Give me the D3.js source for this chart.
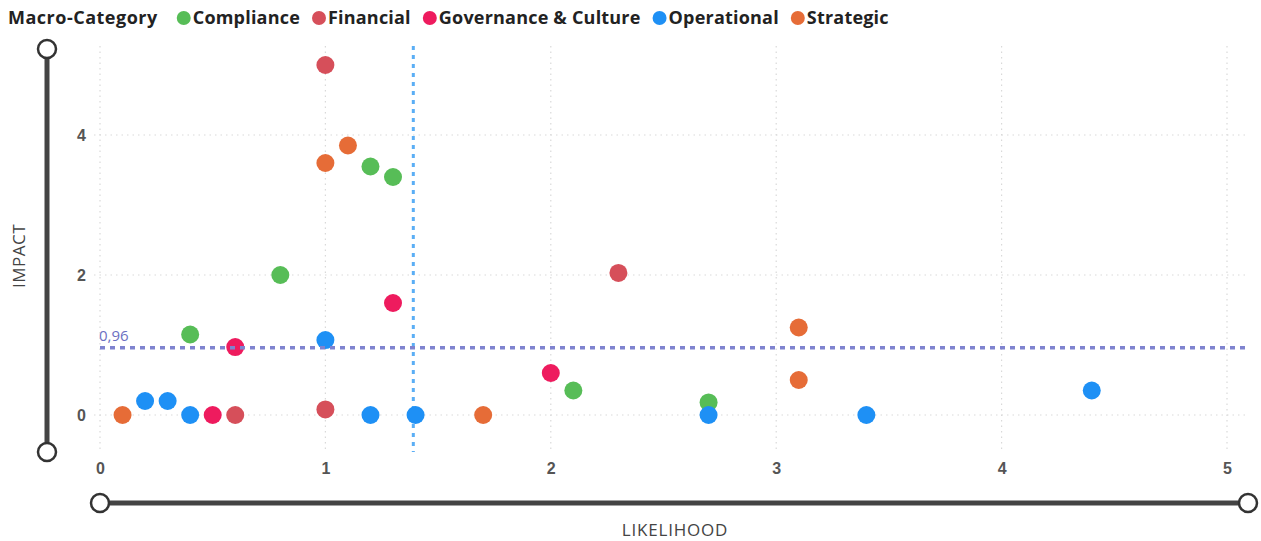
<!DOCTYPE html>
<html><head><meta charset="utf-8">
<script src="https://cdn.jsdelivr.net/npm/d3@7"></script>
<style>
html,body{margin:0;padding:0;background:#fff;}
svg{display:block;font-family:"Open Sans","DejaVu Sans",sans-serif;}
</style></head>
<body><svg id="chart" width="1261" height="541"></svg>
<script>
const categories = ["Compliance","Financial","Governance & Culture","Operational","Strategic"];
const colors = ["#57BD57","#D64F5A","#EE1B5E","#1E90F5","#E66C37"];
const complianceLikelihood = [0.4,0.8,1.2,1.3,2.1,2.7];
const complianceImpact     = [1.15,2.0,3.55,3.4,0.35,0.18];
const financialLikelihood  = [1.0,0.6,1.0,2.3];
const financialImpact      = [5.0,0,0.08,2.03];
const governanceLikelihood = [0.6,0.5,1.3,2.0];
const governanceImpact     = [0.97,0,1.6,0.6];
const operationalLikelihood= [0.2,0.3,0.4,1.0,1.2,1.4,2.7,3.4,4.4];
const operationalImpact    = [0.2,0.2,0,1.07,0,0,0,0,0.35];
const strategicLikelihood  = [0.1,1.0,1.1,1.7,3.1,3.1];
const strategicImpact      = [0,3.6,3.85,0,1.25,0.5];
const xTicks = [0,1,2,3,4,5];
const yTicks = [0,2,4];
const impactRef = 0.96;
const impactRefLabel = "0,96";
const likelihoodRef = 1.39;

const seriesX = [complianceLikelihood,financialLikelihood,governanceLikelihood,operationalLikelihood,strategicLikelihood];
const seriesY = [complianceImpact,financialImpact,governanceImpact,operationalImpact,strategicImpact];
const points = [];
categories.forEach((c,i)=>seriesX[i].forEach((x,j)=>points.push({cat:c,color:colors[i],x:x,y:seriesY[i][j]})));

const svg = d3.select("#chart");
const x = d3.scaleLinear().domain([0,5]).range([100,1227]);
const y = d3.scaleLinear().domain([-0.5,5.3]).range([450,44]);

// gridlines
const grid = svg.append("g");
grid.selectAll("line.vx").data(xTicks).join("line")
  .attr("x1",d=>x(d)).attr("x2",d=>x(d)).attr("y1",46).attr("y2",452)
  .attr("stroke","#d9d9d9").attr("stroke-width",1.2).attr("stroke-dasharray","1.5,4");
grid.selectAll("line.hy").data(yTicks).join("line")
  .attr("x1",94).attr("x2",1248).attr("y1",d=>y(d)).attr("y2",d=>y(d))
  .attr("stroke","#d9d9d9").attr("stroke-width",1.2).attr("stroke-dasharray","1.5,4");

// axes tick labels
const xAxis = d3.axisBottom(x).tickValues(xTicks).tickFormat(d3.format("d")).tickSize(0).tickPadding(0);
const gx = svg.append("g").attr("transform","translate(0,474)").call(xAxis);
gx.select(".domain").remove();
gx.selectAll("text").attr("fill","#555").style("font-size","16px").style("font-weight","600").attr("dy","0");
const yAxis = d3.axisLeft(y).tickValues(yTicks).tickFormat(d3.format("d")).tickSize(0).tickPadding(0);
const gy = svg.append("g").attr("transform","translate(86,0)").call(yAxis);
gy.select(".domain").remove();
gy.selectAll("text").attr("fill","#555").style("font-size","16px").style("font-weight","600");

// vertical reference line (likelihood)
svg.append("line").attr("x1",x(likelihoodRef)).attr("x2",x(likelihoodRef)).attr("y1",46).attr("y2",452)
  .attr("stroke","#5AAEF5").attr("stroke-width",3).attr("stroke-dasharray","4,5");

// points
svg.append("g").selectAll("circle").data(points).join("circle")
  .attr("cx",d=>x(d.x)).attr("cy",d=>y(d.y)).attr("r",9)
  .attr("fill",d=>d.color);

// horizontal reference line (impact)
svg.append("line").attr("x1",100).attr("x2",1245).attr("y1",y(impactRef)).attr("y2",y(impactRef))
  .attr("stroke","#7F83CF").attr("stroke-width",3.5).attr("stroke-dasharray","5,5");
svg.append("text").attr("x",99).attr("y",y(impactRef)-7).text(impactRefLabel)
  .attr("fill","#6B6FC2").style("font-size","15px");

// slider decorations
function slider(x1,y1,x2,y2){
  svg.append("line").attr("x1",x1).attr("y1",y1).attr("x2",x2).attr("y2",y2)
    .attr("stroke","#444").attr("stroke-width",5);
  [[x1,y1],[x2,y2]].forEach(p=>svg.append("circle").attr("cx",p[0]).attr("cy",p[1]).attr("r",9)
    .attr("fill","#fff").attr("stroke","#333").attr("stroke-width",2.5));
}
slider(47,49,47,452);
slider(100,503,1248,503);

// axis titles
svg.append("text").attr("transform","translate(25,256) rotate(-90)").attr("text-anchor","middle")
  .text("IMPACT").attr("fill","#444").style("font-size","17px").style("letter-spacing","0.5px");
svg.append("text").attr("x",675).attr("y",536).attr("text-anchor","middle")
  .text("LIKELIHOOD").attr("fill","#444").style("font-size","17px").style("letter-spacing","0.8px");

// legend
const lg = svg.append("g");
const title = lg.append("text").attr("x",8).attr("y",24).text("Macro-Category")
  .attr("fill","#222").style("font-size","18px").style("font-weight","700").style("letter-spacing","0.5px");
let lx = 8 + title.node().getComputedTextLength() + 19;
categories.forEach((c,i)=>{
  lg.append("circle").attr("cx",lx+7).attr("cy",18).attr("r",7).attr("fill",colors[i]);
  const t = lg.append("text").attr("x",lx+16).attr("y",24).text(c)
    .attr("fill","#222").style("font-size","18px").style("font-weight","700").style("letter-spacing","0.2px");
  lx += 16 + t.node().getComputedTextLength() + 12;
});
</script></body></html>
